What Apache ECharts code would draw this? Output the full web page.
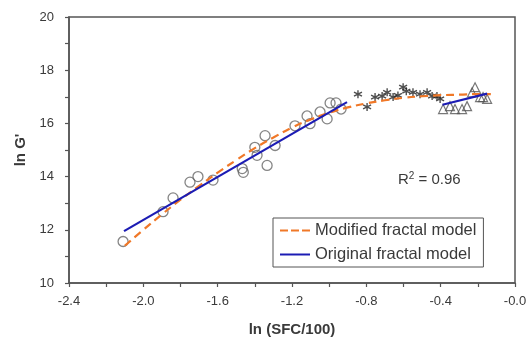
<!DOCTYPE html>
<html>
<head>
<meta charset="utf-8">
<script src="https://cdn.jsdelivr.net/npm/echarts@6/dist/echarts.min.js"></script>
<style>html,body{margin:0;padding:0;background:#fff;}#c{width:531px;height:342px;}</style>
</head>
<body>
<div id="c"></div>
<script>
// Circles (low SFC data)
var circleX = [-2.109, -1.894, -1.840, -1.749, -1.706, -1.625, -1.468, -1.462, -1.400, -1.388, -1.345, -1.291, -1.334, -1.184, -1.119, -1.103, -1.049, -1.011, -0.995, -0.963, -0.936];
var circleY = [11.56, 12.68, 13.20, 13.79, 14.00, 13.87, 14.30, 14.16, 15.10, 14.80, 15.54, 15.17, 14.42, 15.91, 16.28, 15.99, 16.43, 16.17, 16.77, 16.77, 16.54];
// Asterisks
var starX = [-0.845, -0.796, -0.753, -0.715, -0.688, -0.656, -0.630, -0.602, -0.585, -0.549, -0.511, -0.473, -0.446, -0.420, -0.403];
var starY = [17.10, 16.62, 16.99, 17.03, 17.17, 16.99, 17.05, 17.36, 17.21, 17.17, 17.10, 17.17, 17.03, 17.03, 16.92];
// Triangles
var triX = [-0.387, -0.350, -0.323, -0.285, -0.258, -0.231, -0.215, -0.188, -0.172, -0.150];
var triY = [16.54, 16.65, 16.54, 16.54, 16.65, 17.17, 17.36, 16.99, 16.99, 16.92];
// Modified fractal model (orange dashed)
var modX = [-2.10, -2.00, -1.90, -1.80, -1.70, -1.60, -1.50, -1.40, -1.30, -1.20, -1.10, -1.00, -0.90, -0.80, -0.70, -0.60, -0.50, -0.40, -0.30, -0.20, -0.13];
var modY = [11.40, 12.00, 12.58, 13.13, 13.65, 14.15, 14.62, 15.07, 15.47, 15.84, 16.15, 16.40, 16.60, 16.75, 16.87, 16.96, 17.02, 17.06, 17.08, 17.10, 17.10];
// Original fractal model (blue, two segments)
var orig1X = [-2.104, -0.904];
var orig1Y = [11.95, 16.80];
var orig2X = [-0.390, -0.150];
var orig2Y = [16.70, 17.12];
// Axis ticks
var xTicks = [-2.4, -2.0, -1.6, -1.2, -0.8, -0.4, 0.0];
var yTicks = [10, 12, 14, 16, 18, 20];

function zip(a, b) { return a.map(function (v, i) { return [v, b[i]]; }); }

var asterisk = 'path://M0,-5L0,5M-4.33,-2.5L4.33,2.5M-4.33,2.5L4.33,-2.5';
var dashIcon = 'path://M0,0h8v2h-8zM11,0h8v2h-8zM22,0h8v2h-8z';
var solidIcon = 'path://M0,0h30v2h-30z';
var chart = echarts.init(document.getElementById('c'));
var axisColor = '#555';
var textColor = '#3a3a3a';
chart.setOption({
  animation: false,
  grid: { left: 69, right: 16, top: 17, bottom: 56, show: true, borderColor: axisColor, borderWidth: 1.5 },
  xAxis: {
    type: 'value', min: xTicks[0], max: xTicks[xTicks.length - 1], interval: 0.4,
    name: 'ln (SFC/100)', nameLocation: 'middle', nameGap: 39,
    nameTextStyle: { fontFamily: 'Liberation Sans', fontWeight: 'bold', fontSize: 15, color: textColor },
    axisLine: { onZero: false, lineStyle: { color: axisColor, width: 1.5 } },
    axisTick: { show: true, length: 4, lineStyle: { color: axisColor, width: 1.2 } },
    minorTick: { show: true, splitNumber: 2, length: 4, lineStyle: { color: axisColor, width: 1.2 } },
    splitLine: { show: false },
    axisLabel: { fontFamily: 'Liberation Sans', fontSize: 13, color: textColor, margin: 12,
      formatter: function (v) { return Math.abs(v) < 1e-9 ? '-0.0' : v.toFixed(1); } }
  },
  yAxis: {
    type: 'value', min: yTicks[0], max: yTicks[yTicks.length - 1], interval: 2,
    name: "ln G'", nameLocation: 'middle', nameGap: 41, nameRotate: 90,
    nameTextStyle: { fontFamily: 'Liberation Sans', fontWeight: 'bold', fontSize: 15, color: textColor },
    axisLine: { onZero: false, lineStyle: { color: axisColor, width: 1.5 } },
    axisTick: { show: true, length: 4, lineStyle: { color: axisColor, width: 1.2 } },
    minorTick: { show: true, splitNumber: 2, length: 4, lineStyle: { color: axisColor, width: 1.2 } },
    splitLine: { show: false },
    axisLabel: { fontFamily: 'Liberation Sans', fontSize: 13, color: textColor, margin: 15 }
  },
  legend: {
    data: [{ name: 'Modified fractal model', icon: dashIcon }, { name: 'Original fractal model', icon: solidIcon }],
    orient: 'vertical', left: 273, top: 218,
    itemWidth: 30, itemHeight: 3, itemGap: 7,
    padding: [4, 7, 4, 7],
    borderColor: axisColor, borderWidth: 1,
    textStyle: { fontFamily: 'Liberation Sans', fontSize: 16.5, color: textColor }
  },
  graphic: [{
    type: 'text', left: 398, top: 171,
    style: {
      text: '{a|R}{s|2}{a| = 0.96}',
      rich: {
        a: { fontFamily: 'Liberation Sans', fontSize: 15, fill: textColor, verticalAlign: 'bottom' },
        s: { fontFamily: 'Liberation Sans', fontSize: 10, fill: textColor, verticalAlign: 'top', padding: [0, 0, 6, 0] }
      }
    }
  }],
  series: [
    { type: 'scatter', name: 'circles', data: zip(circleX, circleY), symbol: 'circle', symbolSize: 10,
      itemStyle: { color: 'rgba(0,0,0,0)', borderColor: '#666', borderWidth: 1.3 }, z: 3 },
    { type: 'scatter', name: 'stars', data: zip(starX, starY), symbol: asterisk, symbolSize: 8,
      itemStyle: { color: 'rgba(0,0,0,0)', borderColor: '#222', borderWidth: 1.4 }, z: 3 },
    { type: 'scatter', name: 'tris', data: zip(triX, triY), symbol: 'triangle', symbolSize: 9,
      itemStyle: { color: 'rgba(0,0,0,0)', borderColor: '#555', borderWidth: 1.2 }, z: 3 },
    { type: 'line', name: 'Modified fractal model', data: zip(modX, modY), smooth: true, symbol: 'none',
      lineStyle: { color: '#F07828', width: 2.2, type: [8, 5] }, itemStyle: { color: '#F07828' }, z: 4 },
    { type: 'line', name: 'Original fractal model', data: zip(orig1X, orig1Y), symbol: 'none',
      lineStyle: { color: '#1C1CB4', width: 2.2 }, itemStyle: { color: '#1C1CB4' }, z: 5 },
    { type: 'line', name: 'Original fractal model', data: zip(orig2X, orig2Y), symbol: 'none',
      lineStyle: { color: '#1C1CB4', width: 2.2 }, itemStyle: { color: '#1C1CB4' }, z: 5 }
  ]
});
</script>
</body>
</html>
